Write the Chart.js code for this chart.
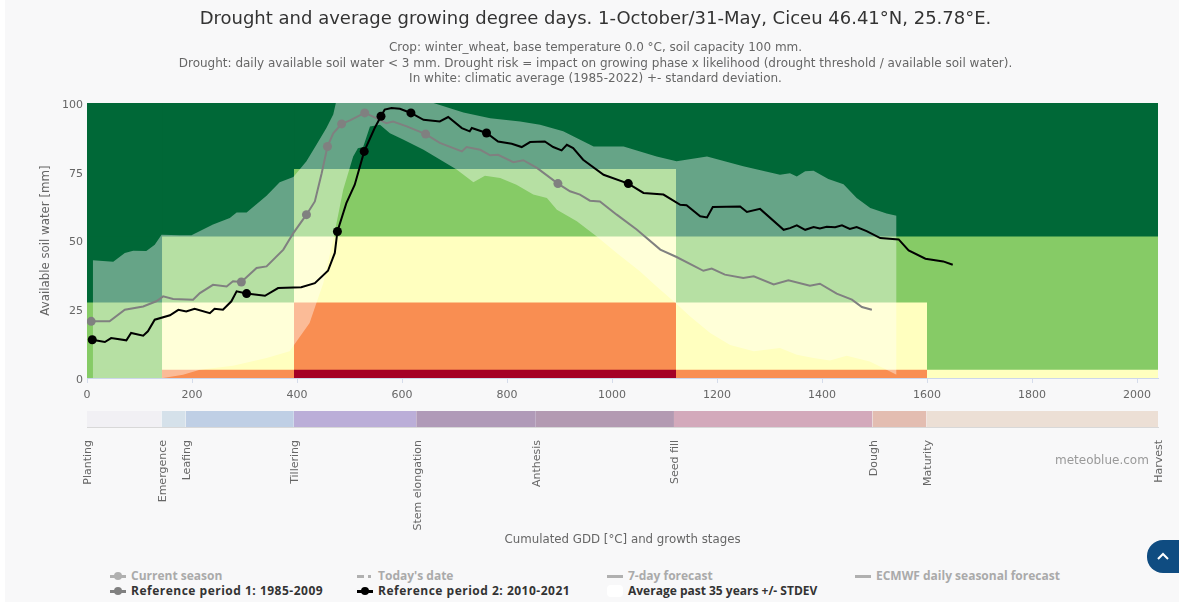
<!DOCTYPE html>
<html>
<head>
<meta charset="utf-8">
<title>Drought and average growing degree days</title>
<script src="https://cdn.jsdelivr.net/npm/chart.js@4"></script>
<style>
    html, body { margin: 0; padding: 0; width: 1179px; height: 604px; overflow: hidden; background: #fff; }
    #page { position: absolute; left: 5px; top: 0; width: 1174px; height: 602px; background: #f8f8f9; }
    #main-chart { position: absolute; left: 0; top: 0; }
    #stage-chart { position: absolute; left: 0; top: 400px; }
    .credit { position: absolute; left: 1055px; top: 453px; font: 12px "DejaVu Sans"; color: #999; }
    .to-top { position: absolute; left: 1147px; top: 540px; width: 32px; height: 33px; background: #0f4c81; border-radius: 16px 0 0 16px; }
    .to-top svg { position: absolute; left: 8px; top: 10px; }
    .legend-item { position: absolute; font: bold 12px "Open Sans"; white-space: nowrap; line-height: 16px; height: 16px; padding-left: 21px; }
    .legend-item i { position: absolute; left: 0; top: 7px; width: 16px; height: 2.5px; }
    .legend-item b { position: absolute; left: 4px; top: 4px; width: 8px; height: 8px; border-radius: 50%; }
</style>
</head>
<body>
<div id="page"></div>
<canvas id="main-chart" width="1179" height="400"></canvas>
<canvas id="stage-chart" width="1179" height="150"></canvas>
<div class="credit">meteoblue.com</div>
<div id="legend"></div>
<div class="to-top"><svg width="16" height="12" viewBox="0 0 16 12"><path d="M3 9l5-5 5 5" fill="none" stroke="#fff" stroke-width="2"/></svg></div>

<script>
// Risk matrix
const riskColors = ['#006837', '#86cb66', '#ffffbf', '#f98e52', '#a50026'];
const phaseEdges = [0, 142.9, 394.3, 1121.9, 1600, 2040];
const bandEdges = [0, 3, 27.5, 51.5, 76, 100];
// per phase, bottom band first, index into riskColors
const phaseRisk = [
    [1, 1, 0, 0, 0],
    [3, 2, 1, 0, 0],
    [4, 3, 2, 1, 0],
    [3, 2, 1, 0, 0],
    [2, 1, 1, 0, 0]
];

// Series: [GDD, soil water]
const stdevUpper = [[11,42.8],[50,42.3],[72,45.5],[88,46.3],[113,46.2],[129,48.5],[142,52.1],[177,51.9],[199,51.9],[240,55.8],[272,58.2],[285,60.2],[304,60.2],[342,66.3],[367,71.2],[393,73.1],[418,78.8],[437,84.8],[456,90.9],[469,95.8],[474,100],[660,100],[717,96.6],[768,94.5],[825,93.3],[863,92.1],[907,89.7],[965,84.2],[1022,84.2],[1085,80.6],[1123,78.8],[1181,80.6],[1250,77],[1320,73.9],[1339,74.5],[1352,73.3],[1368,75.2],[1384,75.4],[1412,72.4],[1441,70.5],[1466,65.5],[1492,61.8],[1523,59.8],[1542,59]];
const stdevLower = [[11,0],[145,0],[183,1.2],[215,3],[278,4.5],[342,7.3],[386,9.7],[396,12.5],[424,20],[437,27.3],[450,34.5],[469,50.3],[488,68.5],[507,80.6],[516,83.6],[526,84],[539,91.5],[558,92.1],[577,89],[602,86.7],[641,83],[704,75.8],[736,71.2],[758,73.6],[787,72.7],[818,70.3],[850,66.7],[876,65.5],[895,61.2],[933,57],[971,51.5],[1009,45.5],[1053,38.8],[1085,33.3],[1121,27.3],[1149,22.4],[1187,16.4],[1225,12],[1270,9.7],[1320,10.9],[1352,8.5],[1384,7.3],[1415,6.4],[1447,8.1],[1491,6],[1523,3],[1542,1.2]];
const period1 = [[8,20.6],[43,20.6],[72,24.8],[107,26],[132,27.9],[145,29.7],[164,28.7],[202,28.5],[215,30.9],[240,33.9],[266,33.3],[278,35.2],[294,34.9],[323,40],[342,40.6],[374,46.7],[393,52.7],[418,59.4],[434,64.2],[447,74.5],[458,84.2],[469,89],[485,92.4],[501,93.7],[529,96.4],[551,94.5],[570,92.7],[583,93.3],[609,91.5],[645,88.7],[672,85.5],[714,82.4],[723,84],[749,83],[768,81],[783,81.2],[812,78.5],[831,79.2],[857,76.4],[897,70.7],[920,67.9],[939,66.7],[958,64.5],[977,64.2],[1009,59.4],[1047,54],[1092,46.7],[1123,44],[1174,39],[1190,39.8],[1215,37.6],[1250,36.4],[1270,37],[1308,34],[1336,35.5],[1377,33.6],[1396,34.3],[1428,30.7],[1457,28.5],[1476,25.8],[1495,24.8]];
const period2 = [[10,13.9],[34,13.1],[46,14.5],[75,13.7],[84,16.4],[107,15.4],[116,17],[129,21.2],[158,22.8],[174,24.8],[189,24.2],[205,25.2],[234,23.6],[243,25.2],[259,24.8],[275,27.9],[285,31.5],[304,30.7],[339,29.9],[364,32.7],[408,33],[434,34.5],[459,39],[472,45.5],[477,53.3],[494,63.6],[510,70.3],[528,82.4],[548,90.9],[560,95.2],[567,97.6],[580,98.2],[596,97.9],[617,96.4],[641,93.9],[672,93.3],[688,94.9],[714,90.9],[729,89.7],[733,90.9],[761,89.1],[783,86],[809,85.2],[828,84],[844,85.8],[872,86],[888,84],[904,82.8],[914,84.8],[926,83.6],[945,79.4],[984,73.9],[1031,70.7],[1060,67.3],[1098,66.7],[1130,63],[1142,62.8],[1168,58.8],[1181,58.4],[1192,62.2],[1244,62.4],[1257,60.4],[1282,61.5],[1327,53.9],[1339,54.5],[1352,55.5],[1368,53.9],[1384,54.9],[1396,54.4],[1409,55],[1425,54.8],[1438,55.5],[1453,54.2],[1466,54.9],[1485,53.4],[1511,50.9],[1546,50.4],[1565,46.4],[1597,43.4],[1631,42.4],[1649,41.2]];
// GDD of the growth stage dots on each line
const period1Dots = [8, 294, 418, 458, 485, 529, 645, 897];
const period2Dots = [10, 304, 477, 528, 560, 617, 761, 1031];

const xTickValues = [0, 200, 400, 600, 800, 1000, 1200, 1400, 1600, 1800, 2000];
const yTickValues = [0, 25, 50, 75, 100];

// Growth stages
const stageNames = ['Planting', 'Emergence', 'Leafing', 'Tillering', 'Stem elongation', 'Anthesis', 'Seed fill', 'Dough', 'Maturity', 'Harvest'];
const stageGdd = [0, 142, 188, 394, 627, 855, 1118, 1496, 1599, 2040];
const stageColors = ['#f1f0f4', '#d5e1ea', '#bfcfe5', '#bbaed8', '#b09ab8', '#b39ab2', '#d3a9bb', '#e3bdb1', '#ecdfd5'];

const legendRow1 = ['Current season', "Today's date", '7-day forecast', 'ECMWF daily seasonal forecast'];
const legendRow2 = ['Reference period 1: 1985-2009', 'Reference period 2: 2010-2021', 'Average past 35 years +/- STDEV'];

const toPoints = rows => rows.map(r => ({ x: r[0], y: r[1] }));

// Every cell is filled down to 0 and out to the right edge, later cells paint over
// earlier ones, otherwise antialiasing leaves pale seams between neighbours
const heatDatasets = [];
phaseRisk.forEach((bands, p) => {
    bands.forEach((risk, b) => {
        heatDatasets.push({
            data: [{ x: phaseEdges[p], y: bandEdges[b + 1] }, { x: phaseEdges[phaseEdges.length - 1], y: bandEdges[b + 1] }],
            fill: { value: 0 },
            backgroundColor: riskColors[risk],
            borderWidth: 0,
            pointRadius: 0,
            order: 10 + (phaseRisk.length - p) * 5 + b
        });
    });
});

function lineDataset(rows, dots, color, order) {
    return {
        data: toPoints(rows),
        borderColor: color,
        backgroundColor: color,
        borderWidth: 2,
        fill: false,
        pointBorderWidth: 0,
        pointRadius: ctx => dots.includes(ctx.raw.x) ? 4.5 : 0,
        order: order
    };
}

const axisText = '#666';
const axisFont = { family: 'DejaVu Sans', size: 11 };
const axisTitleFont = { family: 'DejaVu Sans', size: 11.8 };

new Chart(document.getElementById('main-chart'), {
    type: 'line',
    data: {
        datasets: [
            lineDataset(period2, period2Dots, '#000', 1),
            lineDataset(period1, period1Dots, '#808080', 2),
            { data: toPoints(stdevUpper), fill: '+1', backgroundColor: 'rgba(255,255,255,0.4)', borderWidth: 0, pointRadius: 0, order: 3 },
            { data: toPoints(stdevLower), fill: false, borderWidth: 0, pointRadius: 0, order: 4 },
            ...heatDatasets
        ]
    },
    options: {
        responsive: false,
        animation: false,
        layout: { padding: { left: 33, right: 21, top: 9, bottom: 0 } },
        plugins: {
            legend: { display: false },
            tooltip: { enabled: false },
            title: {
                display: true,
                text: 'Drought and average growing degree days. 1-October/31-May, Ciceu 46.41°N, 25.78°E.',
                color: '#333',
                font: { family: 'DejaVu Sans', size: 18, weight: 'normal' },
                padding: { top: 0, bottom: 10 }
            },
            subtitle: {
                display: true,
                text: [
                    'Crop: winter_wheat, base temperature 0.0 °C, soil capacity 100 mm.',
                    'Drought: daily available soil water < 3 mm. Drought risk = impact on growing phase x likelihood (drought threshold / available soil water).',
                    'In white: climatic average (1985-2022) +- standard deviation.'
                ],
                color: axisText,
                font: { family: 'DejaVu Sans', size: 12, lineHeight: 1.29 },
                padding: { top: 0, bottom: 16 }
            }
        },
        scales: {
            x: {
                type: 'linear',
                min: 0,
                max: 2040,
                afterBuildTicks: axis => { axis.ticks = xTickValues.map(v => ({ value: v })); },
                afterFit: scale => { scale.height = 22; },
                grid: { drawOnChartArea: false, drawTicks: true, tickLength: 5, color: '#d5dceb' },
                border: { color: '#ccd6eb' },
                ticks: { maxRotation: 0, color: axisText, font: axisFont, padding: 6, callback: value => String(value) }
            },
            y: {
                min: 0,
                max: 100,
                afterBuildTicks: axis => { axis.ticks = yTickValues.map(v => ({ value: v })); },
                afterFit: scale => { scale.width = 54; },
                grid: { display: false, drawTicks: false },
                border: { display: false },
                ticks: { color: axisText, font: axisFont, padding: 4, labelOffset: 2 },
                title: { display: true, text: 'Available soil water [mm]', color: axisText, font: axisTitleFont, padding: { top: 6, bottom: 0 } }
            }
        }
    }
});

// Growth stage strip, second chart under the main one
new Chart(document.getElementById('stage-chart'), {
    type: 'line',
    data: {
        datasets: stageColors.map((color, i) => ({
            data: [{ x: stageGdd[i], y: 1 }, { x: stageGdd[i + 1], y: 1 }],
            fill: { value: 0 },
            backgroundColor: color,
            borderWidth: 0,
            pointRadius: 0
        }))
    },
    options: {
        responsive: false,
        animation: false,
        layout: { padding: { left: 87, right: 21, top: 11, bottom: 3 } },
        plugins: { legend: { display: false }, tooltip: { enabled: false } },
        scales: {
            x: {
                type: 'linear',
                min: 0,
                max: 2040,
                afterBuildTicks: axis => { axis.ticks = stageGdd.map(v => ({ value: v })); },
                afterFit: scale => { scale.height = 120; },
                grid: { display: false },
                border: { color: '#d8d8d8' },
                ticks: {
                    autoSkip: false,
                    minRotation: 90,
                    maxRotation: 90,
                    padding: 5,
                    labelOffset: 1.5,
                    color: axisText,
                    font: axisFont,
                    callback: (value, index) => stageNames[index]
                },
                title: { display: true, text: 'Cumulated GDD [°C] and growth stages', color: axisText, font: axisTitleFont, padding: 0 }
            },
            y: { display: false, min: 0, max: 1 }
        }
    }
});

// Legend, same four columns as the original page
const legendColumns = [110, 357, 607, 855];
const legendBox = document.getElementById('legend');
function addLegendItem(label, column, top, textColor, markCss, dotColor, spacing) {
    const item = document.createElement('div');
    item.className = 'legend-item';
    item.style.cssText = `left:${legendColumns[column]}px;top:${top}px;color:${textColor};letter-spacing:${spacing || 0}px`;
    item.innerHTML = `<i style="${markCss}"></i>` + (dotColor ? `<b style="background:${dotColor}"></b>` : '');
    item.appendChild(document.createTextNode(label));
    legendBox.appendChild(item);
}
addLegendItem(legendRow1[0], 0, 568, '#aaa', 'background:#b0b0b0', '#b0b0b0');
addLegendItem(legendRow1[1], 1, 568, '#aaa', 'background:linear-gradient(90deg,#b0b0b0 0 7px,transparent 7px 11px,#b0b0b0 11px 14px,transparent 14px)');
addLegendItem(legendRow1[2], 2, 568, '#aaa', 'background:#b0b0b0');
addLegendItem(legendRow1[3], 3, 568, '#aaa', 'background:#b0b0b0');
addLegendItem(legendRow2[0], 0, 583, '#333', 'background:#808080', '#808080', 0.5);
addLegendItem(legendRow2[1], 1, 583, '#333', 'background:#000', '#000', 0.5);
addLegendItem(legendRow2[2], 2, 583, '#333', 'background:#fff;height:12px;top:2px;border-radius:4px');
</script>
</body>
</html>
